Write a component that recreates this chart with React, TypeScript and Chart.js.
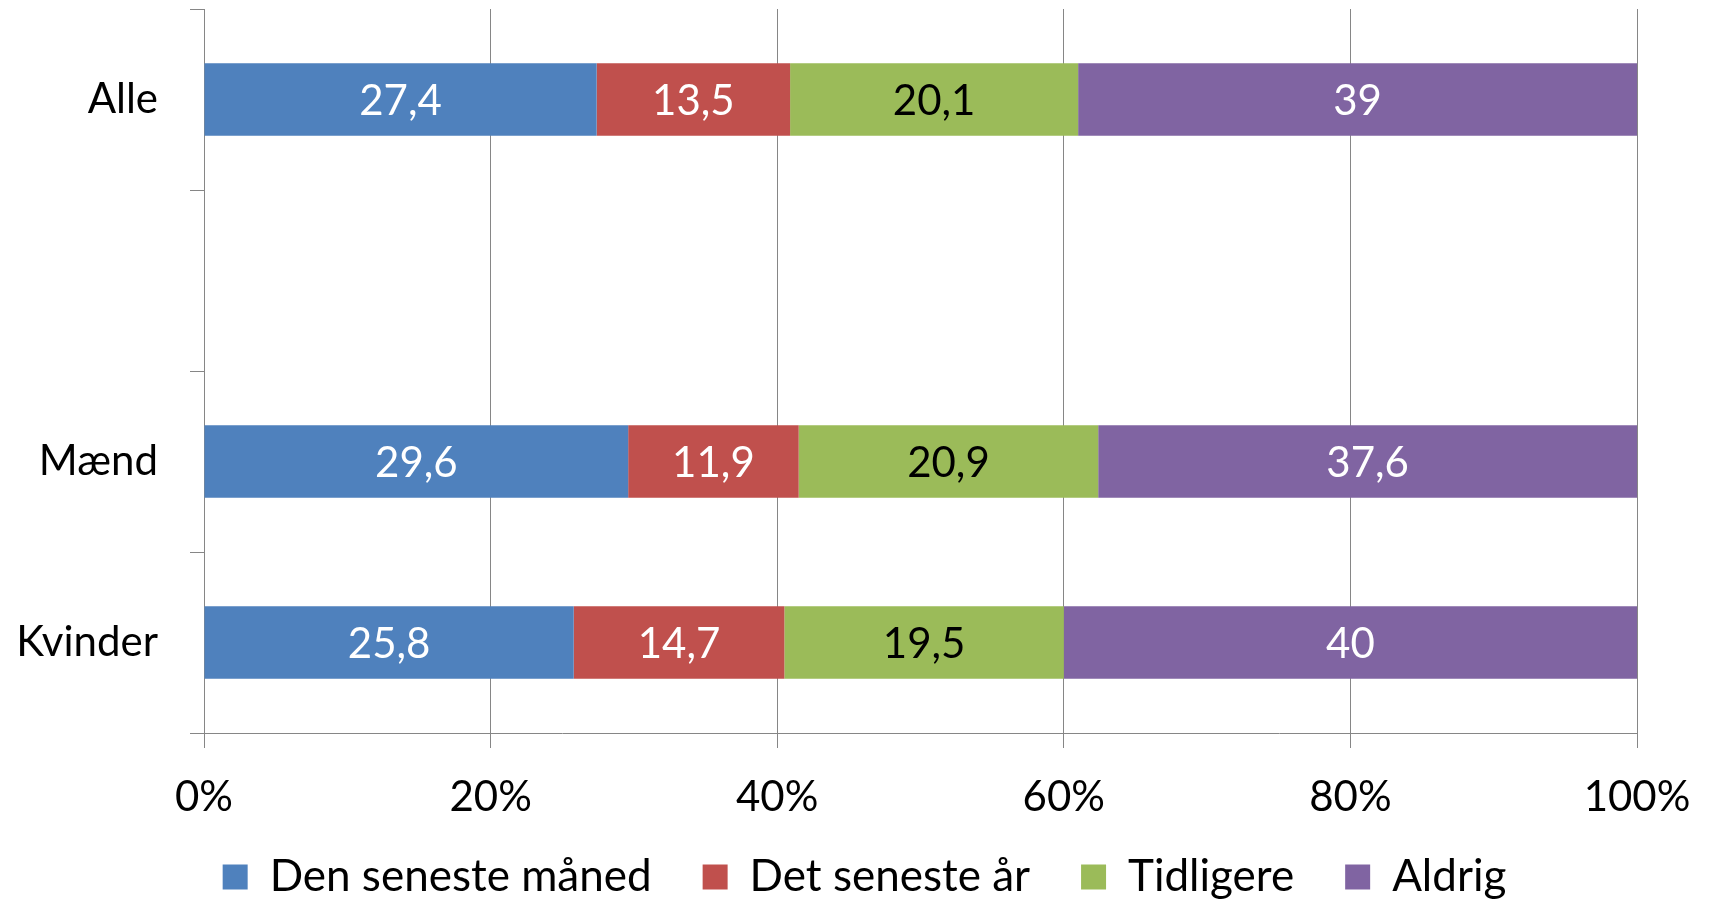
import React, { useEffect, useRef } from "react";
import { Chart, registerables } from "chart.js";

Chart.register(...registerables);

const categories = ["Alle", "", "Mænd", "Kvinder"];
const seriesNames = ["Den seneste måned", "Det seneste år", "Tidligere", "Aldrig"];
const denSenesteMaaned = [27.4, null, 29.6, 25.8];
const detSenesteAar = [13.5, null, 11.9, 14.7];
const tidligere = [20.1, null, 20.9, 19.5];
const aldrig = [39, null, 37.6, 40];
const xTicks = [0, 20, 40, 60, 80, 100];

const colors = ["#4F81BD", "#C0504D", "#9BBB59", "#8064A2"];
const labelColors = ["#FFFFFF", "#FFFFFF", "#000000", "#FFFFFF"];
const FONT = "Lato";
const GRID = "#868686";

const valueLabels = {
  id: "valueLabels",
  afterDatasetsDraw(chart: any) {
    const ctx = chart.ctx;
    ctx.save();
    ctx.font = `42px ${FONT}`;
    ctx.textAlign = "center";
    ctx.textBaseline = "middle";
    chart.data.datasets.forEach((ds: any, di: number) => {
      const meta = chart.getDatasetMeta(di);
      meta.data.forEach((el: any, i: number) => {
        const v = ds.data[i];
        if (v === null || v === undefined) return;
        const p = el.getCenterPoint();
        ctx.fillStyle = labelColors[di];
        ctx.fillText(String(v).replace(".", ","), p.x, p.y + 2);
      });
    });
    ctx.restore();
  },
};

// nudge the legend box into the place it has in the reference
const legendShift = {
  id: "legendShift",
  afterLayout(chart: any) {
    const l = chart.legend;
    if (!l) return;
    l.left += 46;
    l.right += 46;
    l.top -= 8;
    l.bottom -= 8;
  },
};

export default function App() {
  const ref = useRef<HTMLCanvasElement | null>(null);
  useEffect(() => {
    document.body.style.margin = "0";
    const allData = [denSenesteMaaned, detSenesteAar, tidligere, aldrig];
    const chart = new Chart(ref.current!, {
      type: "bar",
      data: {
        labels: categories,
        datasets: allData.map((d, i) => ({
          label: seriesNames[i],
          data: d,
          backgroundColor: colors[i],
          borderWidth: 0,
          barPercentage: 0.4,
          categoryPercentage: 1,
        })),
      },
      options: {
        indexAxis: "y",
        animation: false,
        responsive: true,
        maintainAspectRatio: false,
        layout: { padding: { top: 9, right: 72, left: 0, bottom: -13 } },
        plugins: {
          tooltip: { enabled: false },
          legend: {
            position: "bottom",
            labels: {
              boxWidth: 25,
              boxHeight: 25,
              padding: 51,
              color: "#000",
              font: { family: FONT, size: 44 },
            },
          },
        },
        scales: {
          x: {
            stacked: true,
            min: 0,
            max: 100,
            afterBuildTicks(scale: any) {
              scale.ticks = xTicks.map((v) => ({ value: v }));
            },
            afterFit(scale: any) {
              scale.height = 79;
              scale.paddingLeft = 0;
              scale.paddingRight = 0;
            },
            ticks: {
              color: "#000",
              font: { family: FONT, size: 42 },
              padding: 24,
              maxRotation: 0,
              callback: (v: any) => v + "%",
            },
            grid: { color: GRID, lineWidth: 1, tickLength: 15 },
            border: { color: GRID, width: 1 },
          },
          y: {
            stacked: true,
            afterFit(scale: any) {
              scale.width = 204;
              scale.paddingTop = 0;
              scale.paddingBottom = 0;
            },
            ticks: {
              color: "#000",
              font: { family: FONT, size: 42 },
              padding: 32,
            },
            grid: {
              offset: true,
              drawOnChartArea: false,
              color: GRID,
              tickLength: 14,
            },
            border: { color: GRID, width: 1 },
          },
        },
      },
      plugins: [valueLabels, legendShift],
    });
    return () => chart.destroy();
  }, []);
  return (
    <div style={{ width: 1709, height: 904, position: "relative" }}>
      <canvas ref={ref} />
    </div>
  );
}
